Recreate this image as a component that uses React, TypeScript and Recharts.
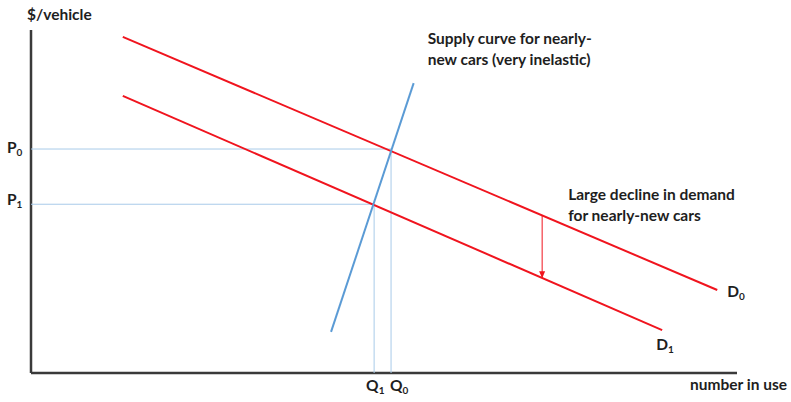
import React from "react";
import { ComposedChart, Line, XAxis, YAxis, ReferenceLine, ReferenceDot } from "recharts";

// Data (arbitrary units: quantity 0-100, price 0-100)
const demandD0 = [
  { x: 13, y: 98 },
  { x: 97.2, y: 24.2 },
];
const demandD1 = [
  { x: 13, y: 80.8 },
  { x: 89.4, y: 12.5 },
];
const supplyCurve = [
  { x: 42.5, y: 12 },
  { x: 54.2, y: 84.5 },
];
const demandShift = [
  { x: 72.4, y: 45.8 },
  { x: 72.4, y: 27.9 },
];
const priceP0 = 65.3;
const priceP1 = 49.2;
const quantityQ0 = 51.0;
const quantityQ1 = 48.6;
const axisLabels = { y: "$/vehicle", x: "number in use" };
const supplyText = ["Supply curve for nearly-", "new cars (very inelastic)"];
const shiftText = ["Large decline in demand", "for nearly-new cars"];

const RED = "#f0141e";
const BLUE = "#5b9bd5";
const GUIDE = "#a8cbe9";
const INK = "#1e1e1e";
const AXIS = "#3a3a3a";
const FONT = "Lato, 'Open Sans', sans-serif";
const FS = 15.5;

type TagProps = {
  cx?: number;
  cy?: number;
  dx: number;
  dy: number;
  main?: string;
  sub?: string;
  lines?: string[];
  anchor?: "start" | "middle" | "end";
};

const Tag = ({ cx = 0, cy = 0, dx, dy, main, sub, lines, anchor = "start" }: TagProps) => {
  const x = cx + dx;
  const y = cy + dy;
  if (lines) {
    return (
      <text x={x} y={y} fontFamily={FONT} fontWeight={700} fontSize={FS} fill={INK} textAnchor={anchor}>
        {lines.map((l, i) => (
          <tspan key={i} x={x} dy={i === 0 ? 0 : 21}>
            {l}
          </tspan>
        ))}
      </text>
    );
  }
  return (
    <text x={x} y={y} fontFamily={FONT} fontWeight={700} fontSize={FS} fill={INK} textAnchor={anchor}>
      {main}
      {sub !== undefined && (
        <tspan fontSize={10} dy={3}>
          {sub}
        </tspan>
      )}
    </text>
  );
};

const ArrowDot = (props: any) => {
  const { cx, cy, index } = props;
  if (index !== 1) return <g key={index} />;
  return <polygon key={index} points={`${cx},${cy + 1} ${cx - 3},${cy - 6} ${cx + 3},${cy - 6}`} fill={RED} />;
};

export default function App() {
  return (
    <div style={{ width: 791, height: 402, background: "#fff" }}>
      <style>{"body{margin:0}"}</style>
      <ComposedChart width={791} height={402} margin={{ top: 30, right: 54, bottom: 29, left: 31 }}>
        <XAxis type="number" dataKey="x" domain={[0, 100]} allowDataOverflow hide />
        <YAxis type="number" dataKey="y" domain={[0, 100]} allowDataOverflow hide />
        {/* axes */}
        <ReferenceLine segment={[{ x: 0, y: 0 }, { x: 0, y: 100 }]} stroke={AXIS} strokeWidth={2.5} ifOverflow="visible" />
        <ReferenceLine segment={[{ x: 0, y: 0 }, { x: 100, y: 0 }]} stroke={AXIS} strokeWidth={2.5} ifOverflow="visible" />
        {/* guide lines */}
        <ReferenceLine segment={[{ x: 0, y: priceP0 }, { x: quantityQ0, y: priceP0 }]} stroke={GUIDE} strokeWidth={1} />
        <ReferenceLine segment={[{ x: quantityQ0, y: 0 }, { x: quantityQ0, y: priceP0 }]} stroke={GUIDE} strokeWidth={1} />
        <ReferenceLine segment={[{ x: 0, y: priceP1 }, { x: quantityQ1, y: priceP1 }]} stroke={GUIDE} strokeWidth={1} />
        <ReferenceLine segment={[{ x: quantityQ1, y: 0 }, { x: quantityQ1, y: priceP1 }]} stroke={GUIDE} strokeWidth={1} />

        <Line data={demandD0} dataKey="y" type="linear" stroke={RED} strokeWidth={2} dot={false} isAnimationActive={false} />
        <Line data={demandD1} dataKey="y" type="linear" stroke={RED} strokeWidth={2} dot={false} isAnimationActive={false} />
        <Line data={supplyCurve} dataKey="y" type="linear" stroke={BLUE} strokeWidth={2} dot={false} isAnimationActive={false} />
        <Line data={demandShift} dataKey="y" type="linear" stroke={RED} strokeWidth={1} dot={ArrowDot} isAnimationActive={false} />

        {/* labels */}
        <ReferenceDot x={0} y={100} r={0} ifOverflow="visible" shape={(p: any) => <Tag {...p} dx={-4} dy={-10} main={axisLabels.y} />} />
        <ReferenceDot x={100} y={0} r={0} ifOverflow="visible" shape={(p: any) => <Tag {...p} dx={-47} dy={17} main={axisLabels.x} />} />
        <ReferenceDot x={0} y={priceP0} r={0} ifOverflow="visible" shape={(p: any) => <Tag {...p} dx={-24} dy={4} main="P" sub="0" />} />
        <ReferenceDot x={0} y={priceP1} r={0} ifOverflow="visible" shape={(p: any) => <Tag {...p} dx={-24} dy={1} main="P" sub="1" />} />
        <ReferenceDot x={quantityQ1} y={0} r={0} ifOverflow="visible" shape={(p: any) => <Tag {...p} dx={-8} dy={18} main="Q" sub="1" />} />
        <ReferenceDot x={quantityQ0} y={0} r={0} ifOverflow="visible" shape={(p: any) => <Tag {...p} dx={-1} dy={18} main="Q" sub="0" />} />
        <ReferenceDot x={demandD0[1].x} y={demandD0[1].y} r={0} ifOverflow="visible" shape={(p: any) => <Tag {...p} dx={10} dy={7} main="D" sub="0" />} />
        <ReferenceDot x={demandD1[1].x} y={demandD1[1].y} r={0} ifOverflow="visible" shape={(p: any) => <Tag {...p} dx={-6} dy={20} main="D" sub="1" />} />
        <ReferenceDot x={supplyCurve[1].x} y={supplyCurve[1].y} r={0} ifOverflow="visible" shape={(p: any) => <Tag {...p} dx={14} dy={-39} lines={supplyText} />} />
        <ReferenceDot x={demandShift[0].x} y={demandShift[0].y} r={0} ifOverflow="visible" shape={(p: any) => <Tag {...p} dx={26} dy={-16} lines={shiftText} />} />
      </ComposedChart>
    </div>
  );
}
